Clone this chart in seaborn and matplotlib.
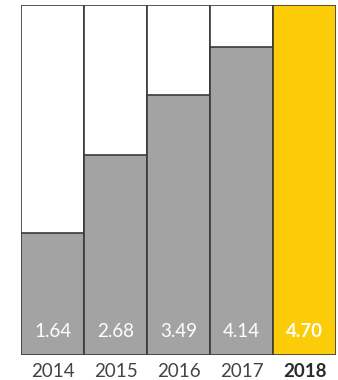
import matplotlib
matplotlib.use("Agg")
import matplotlib.pyplot as plt
import seaborn as sns
import pandas as pd

years = ["2014", "2015", "2016", "2017", "2018"]
values = [1.64, 2.68, 3.49, 4.14, 4.70]
labels = ["1.64", "2.68", "3.49", "4.14", "4.70"]
max_value = 4.70

sns.set_style("white")
plt.rcParams['font.family'] = ['Lato', 'DejaVu Sans']

df = pd.DataFrame({"year": years, "value": values, "full": [max_value] * len(years)})
colors = ["#a3a3a3"] * 4 + ["#fbcc07"]

fig = plt.figure(figsize=(3.38, 3.80), dpi=100)
ax = fig.add_axes([21 / 338, 25 / 380, 315 / 338, 350 / 380])

sns.barplot(data=df, x="year", y="full", color="white", edgecolor="#3a3a3a",
            linewidth=1.2, width=1.0, saturation=1, ax=ax)
sns.barplot(data=df, x="year", y="value", hue="year", palette=colors, legend=False,
            edgecolor="#3a3a3a", linewidth=1.2, width=1.0, saturation=1, ax=ax)

ax.set_ylim(0, max_value)
ax.set_xlim(-0.5, len(years) - 0.5)
ax.set_xlabel("")
ax.set_ylabel("")
ax.set_yticks([])
for s in ax.spines.values():
    s.set_visible(False)
ax.tick_params(axis="x", length=0, pad=6)

for i, lab in enumerate(labels):
    bold = i == len(labels) - 1
    ax.text(i, 0.32, lab, ha="center", va="center", color="white", fontsize=13.5,
            fontweight="bold" if bold else "normal")

ax.set_xticks(range(len(years)))
ax.set_xticklabels(years, fontsize=13.5, color="#444444")
for i, t in enumerate(ax.get_xticklabels()):
    if i == len(years) - 1:
        t.set_fontweight("bold")
        t.set_color("#2a2a2a")
    else:
        t.set_fontweight("normal")

fig.savefig("out.png", dpi=100)
